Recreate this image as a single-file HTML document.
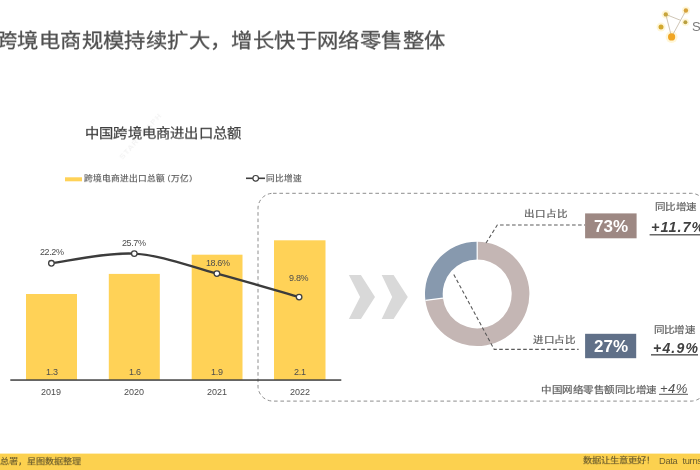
<!DOCTYPE html>
<html lang="zh-CN">
<head>
<meta charset="utf-8">
<style>
html,body{margin:0;padding:0;background:#fff;}
body{width:700px;height:470px;position:relative;overflow:hidden;font-family:"Liberation Sans",sans-serif;}
.t{position:absolute;white-space:nowrap;line-height:1;will-change:transform;}
.c{transform-origin:0 0;transform:scaleY(0.89);-webkit-text-stroke-width:0.2px;}
svg{position:absolute;left:0;top:0;}
</style>
</head>
<body>
<svg width="700" height="470" viewBox="0 0 700 470">
  <!-- dashed rounded rect -->
  <rect x="258" y="193.3" width="448" height="207.8" rx="15" ry="15" fill="none" stroke="#8e8e8e" stroke-width="1" stroke-dasharray="3.6 2.8"/>
  <!-- bars -->
  <g fill="#FFD257">
    <rect x="26" y="294" width="51" height="86"/>
    <rect x="108.8" y="273.9" width="51" height="106.1"/>
    <rect x="191.7" y="254.7" width="50.8" height="125.3"/>
    <rect x="274" y="240.3" width="51.5" height="139.7"/>
  </g>
  <!-- axis -->
  <rect x="10.3" y="379.3" width="331" height="1.5" fill="#404040"/>
  <!-- line -->
  <path d="M51.4,263.3 C65.2,261.7 106.7,251.9 134.3,253.6 C161.9,255.3 189.4,266.35 216.9,273.6 C244.4,280.85 285.4,293.2 299.1,297.1" fill="none" stroke="#3c3c3c" stroke-width="2.4"/>
  <g fill="#fff" stroke="#404040" stroke-width="1.3">
    <circle cx="51.4" cy="263.3" r="2.8"/>
    <circle cx="134.3" cy="253.6" r="2.8"/>
    <circle cx="216.9" cy="273.6" r="2.8"/>
    <circle cx="299.1" cy="297.1" r="2.8"/>
  </g>
  <!-- legend -->
  <rect x="65" y="177.3" width="17" height="4" fill="#FFD257"/>
  <rect x="246" y="177.5" width="19" height="1.6" fill="#404040"/>
  <circle cx="255.7" cy="178.3" r="2.8" fill="#fff" stroke="#404040" stroke-width="1.2"/>
  <!-- chevrons -->
  <g fill="#D9D9D9">
    <polygon points="348.9,274.9 360.9,274.9 375,297 360.9,318.9 348.9,318.9 360.1,297"/>
    <polygon points="381.7,274.9 393.6,274.9 407.8,297 393.6,318.9 381.7,318.9 392.2,297"/>
  </g>
  <!-- donut -->
  <path d="M477.20,241.70 A52.2,52.2 0 1 1 425.41,300.44 L442.97,298.22 A34.5,34.5 0 1 0 477.20,259.40 Z" fill="#C4B6B4"/>
  <path d="M425.41,300.44 A52.2,52.2 0 0 1 477.20,241.70 L477.20,259.40 A34.5,34.5 0 0 0 442.97,298.22 Z" fill="#8799AE"/>
  <line x1="477.2" y1="241" x2="477.2" y2="260" stroke="#fff" stroke-width="1.2"/>
  <line x1="425.41" y1="300.44" x2="442.97" y2="298.22" stroke="#fff" stroke-width="1.2"/>
  <!-- leaders -->
  <g fill="none" stroke="#5a5a5a" stroke-width="1.1" stroke-dasharray="3.6 2.4">
    <polyline points="486,243 497.3,225 585,225"/>
    <polyline points="453.8,274.6 494.2,349.4 578.6,349.4"/>
  </g>
  <!-- boxes -->
  <rect x="585.1" y="213.4" width="51.5" height="24.9" fill="#9D8883"/>
  <rect x="585.1" y="333.8" width="51.1" height="24.4" fill="#607088"/>
  <!-- underlines -->
  <rect x="649.6" y="234.2" width="51" height="1.2" fill="#444"/>
  <rect x="651" y="354.2" width="47" height="1.3" fill="#444"/>
  <rect x="659" y="393.8" width="29" height="1" fill="#555"/>
  <!-- footer -->
  <rect x="0" y="453.6" width="700" height="16.4" fill="#FCD14F"/>
  <!-- logo -->
  <g fill="#FFF5CF" opacity="0.8">
    <circle cx="665.8" cy="14.4" r="4.2"/>
    <circle cx="685.9" cy="10.5" r="4"/>
    <circle cx="685.4" cy="22.2" r="3.8"/>
    <circle cx="661" cy="27.1" r="4.5"/>
    <circle cx="671.6" cy="36.9" r="6"/>
  </g>
  <g stroke="#c9bfae" stroke-width="0.9" fill="none">
    <line x1="665.8" y1="14.4" x2="671.6" y2="36.9"/>
    <line x1="665.8" y1="14.4" x2="681" y2="20.5"/>
    <line x1="671.6" y1="36.9" x2="685.9" y2="10.5"/>
  </g>

  <g>
    <circle cx="665.8" cy="14.4" r="2.2" fill="#C7A53C"/>
    <circle cx="685.9" cy="10.5" r="2.2" fill="#D6A23A"/>
    <circle cx="685.4" cy="22.2" r="2" fill="#B9A040"/>
    <circle cx="661" cy="27.1" r="2.5" fill="#D2A82E"/>
    <circle cx="671.6" cy="36.9" r="3.6" fill="#F0A522"/>
  </g>
</svg>

<div class="t c" style="left:-3.6px;top:32px;font-size:21.3px;letter-spacing:0.4px;-webkit-text-stroke:0.3px #505050;color:#505050;">跨境电商规模持续扩大，增长快于网络零售整体</div>
<div class="t" style="left:118px;top:156px;font-size:8px;letter-spacing:1.2px;color:#efefef;transform:rotate(-48deg);transform-origin:0 0;">STARGRAPH</div>
<div class="t" style="left:692px;top:20px;font-size:13px;color:#7a7a7a;">S</div>

<div class="t c" style="left:85px;top:126.8px;font-size:14.3px;letter-spacing:0.2px;-webkit-text-stroke:0.25px #404040;color:#404040;">中国跨境电商进出口总额</div>
<div class="t c" style="left:83.5px;top:175px;font-size:8.7px;color:#595959;">跨境电商进出口总额<span style="margin-left:-3px">（</span>万亿）</div>
<div class="t c" style="left:265.5px;top:175px;font-size:8.7px;color:#595959;">同比增速</div>

<div class="t" style="left:40px;top:248px;font-size:9px;letter-spacing:-0.4px;color:#4d4d4d;">22.2%</div>
<div class="t" style="left:122px;top:239px;font-size:9px;letter-spacing:-0.4px;color:#4d4d4d;">25.7%</div>
<div class="t" style="left:205.7px;top:258.6px;font-size:9px;letter-spacing:-0.4px;color:#4d4d4d;">18.6%</div>
<div class="t" style="left:288.6px;top:274px;font-size:9px;letter-spacing:-0.3px;color:#4d4d4d;">9.8%</div>

<div class="t" style="left:46px;top:368px;font-size:9px;letter-spacing:-0.3px;color:#4d4d4d;">1.3</div>
<div class="t" style="left:128.6px;top:368px;font-size:9px;letter-spacing:-0.3px;color:#4d4d4d;">1.6</div>
<div class="t" style="left:211px;top:368px;font-size:9px;letter-spacing:-0.3px;color:#4d4d4d;">1.9</div>
<div class="t" style="left:294px;top:368px;font-size:9px;letter-spacing:-0.3px;color:#4d4d4d;">2.1</div>

<div class="t" style="left:41.4px;top:388px;font-size:9px;color:#4d4d4d;">2019</div>
<div class="t" style="left:124.4px;top:388px;font-size:9px;color:#4d4d4d;">2020</div>
<div class="t" style="left:207.4px;top:388px;font-size:9px;color:#4d4d4d;">2021</div>
<div class="t" style="left:289.7px;top:388px;font-size:9px;color:#4d4d4d;">2022</div>

<div class="t c" style="left:523.5px;top:209px;font-size:10.5px;letter-spacing:0.9px;color:#595959;">出口占比</div>
<div class="t c" style="left:533px;top:334.5px;font-size:10.5px;letter-spacing:0.6px;color:#595959;">进口占比</div>
<div class="t" style="left:594px;top:217.8px;font-size:17px;font-weight:bold;color:#fff;">73%</div>
<div class="t" style="left:593.7px;top:337.6px;font-size:17px;font-weight:bold;color:#fff;">27%</div>
<div class="t c" style="left:655.2px;top:202.2px;font-size:10.5px;letter-spacing:0.45px;color:#595959;">同比增速</div>
<div class="t c" style="left:653.8px;top:325px;font-size:10.5px;letter-spacing:0.2px;color:#595959;">同比增速</div>
<div class="t" style="left:651px;top:220px;font-size:14.5px;letter-spacing:1px;font-weight:bold;font-style:italic;color:#404040;">+11.7%</div>
<div class="t" style="left:652.5px;top:341px;font-size:14px;letter-spacing:1.2px;font-weight:bold;font-style:italic;color:#404040;">+4.9%</div>
<div class="t c" style="left:541px;top:385px;font-size:10.5px;letter-spacing:0.55px;color:#595959;">中国网络零售额同比增速</div>
<div class="t" style="left:660px;top:381.5px;font-size:13px;letter-spacing:0.5px;font-style:italic;color:#505050;">+4%</div>

<div class="t c" style="left:-0.3px;top:458px;font-size:9.1px;color:#6b5d2e;">总署，星图数据整理</div>
<div class="t c" style="left:583px;top:456.5px;font-size:9.3px;color:#6b5d2e;">数据让生意更好！</div>
<div class="t" style="left:658.8px;top:456.6px;font-size:9.3px;letter-spacing:-0.3px;color:#6b5d2e;">Data<span style="display:inline-block;width:5px"></span>turns</div>
</body>
</html>
